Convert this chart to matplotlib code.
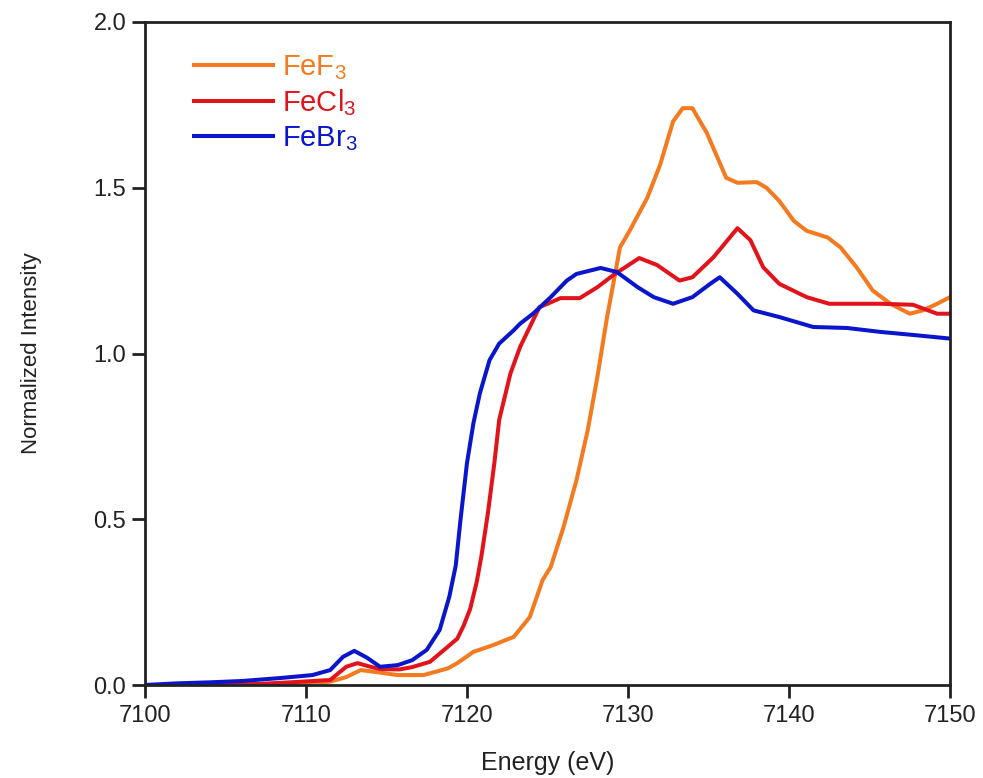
import matplotlib
matplotlib.use("Agg")
import matplotlib.pyplot as plt

plt.rcParams['font.family'] = ['Liberation Sans', 'DejaVu Sans']
plt.rcParams['mathtext.fontset'] = 'custom'
plt.rcParams['mathtext.rm'] = 'Liberation Sans'
plt.rcParams['mathtext.it'] = 'Liberation Sans'

# FeBr3
e_br = [7100, 7102, 7104, 7106, 7108.4, 7110.4, 7111.5, 7112.3, 7113.0, 7113.8, 7114.6, 7115.7,
        7116.6, 7117.5, 7118.3, 7118.9, 7119.3, 7119.6, 7120.0, 7120.4, 7120.8, 7121.4, 7122.0,
        7122.9, 7123.3, 7124.1, 7125.2, 7126.2, 7126.8, 7128.3, 7129.3, 7130.6, 7131.6, 7132.8,
        7134.0, 7135.1, 7135.7, 7136.8, 7137.8, 7139.4, 7141.5, 7143.6, 7145.7, 7147.7, 7150]
i_br = [0.0, 0.005, 0.008, 0.012, 0.021, 0.03, 0.045, 0.085, 0.103, 0.082, 0.055, 0.06,
        0.075, 0.106, 0.166, 0.266, 0.36, 0.50, 0.67, 0.79, 0.88, 0.98, 1.03,
        1.07, 1.09, 1.12, 1.17, 1.22, 1.24, 1.258, 1.246, 1.20, 1.17, 1.15,
        1.17, 1.21, 1.23, 1.18, 1.13, 1.11, 1.08, 1.077, 1.065, 1.056, 1.045]

# FeCl3
e_cl = [7100, 7104, 7107, 7109, 7111.5, 7112.5, 7113.2, 7114.0, 7114.6, 7115.8, 7116.6, 7117.7,
        7118.8, 7119.4, 7119.8, 7120.2, 7120.6, 7120.9, 7121.3, 7121.7, 7122.0, 7122.7, 7123.3,
        7124.1, 7124.5, 7125.0, 7125.8, 7127.0, 7128.1, 7129.1, 7130.7, 7131.8, 7133.2, 7134.0,
        7135.3, 7136.8, 7137.6, 7138.4, 7139.4, 7141.1, 7142.5, 7145.7, 7147.7, 7149.2, 7150]
i_cl = [0.0, 0.0, 0.003, 0.008, 0.015, 0.055, 0.066, 0.055, 0.048, 0.047, 0.054, 0.07,
        0.115, 0.14, 0.18, 0.23, 0.31, 0.39, 0.519, 0.67, 0.80, 0.94, 1.02,
        1.10, 1.14, 1.15, 1.167, 1.167, 1.20, 1.237, 1.288, 1.267, 1.22, 1.23,
        1.29, 1.378, 1.342, 1.26, 1.21, 1.17, 1.15, 1.15, 1.147, 1.12, 1.12]

# FeF3
e_f = [7100, 7104, 7108, 7110, 7111.5, 7112.5, 7113.4, 7114.2, 7115.7, 7117.3, 7118.8, 7119.4,
       7120.4, 7121.6, 7122.9, 7123.9, 7124.7, 7125.2, 7126.0, 7126.8, 7127.5, 7128.1, 7128.7,
       7129.2, 7129.5, 7130.1, 7131.2, 7132.0, 7132.8, 7133.4, 7134.0, 7134.9, 7135.7, 7136.1,
       7136.8, 7138.0, 7138.6, 7139.4, 7140.3, 7141.1, 7142.4, 7143.2, 7144.2, 7145.2, 7146.3,
       7147.5, 7148.3, 7149.2, 7150]
i_f = [0.0, 0.0, 0.003, 0.005, 0.01, 0.024, 0.045, 0.04, 0.03, 0.03, 0.05, 0.066,
       0.10, 0.12, 0.145, 0.205, 0.317, 0.356, 0.477, 0.618, 0.769, 0.93, 1.11,
       1.24, 1.32, 1.37, 1.47, 1.57, 1.70, 1.74, 1.74, 1.665, 1.575, 1.53,
       1.515, 1.517, 1.50, 1.46, 1.40, 1.37, 1.35, 1.32, 1.26, 1.19, 1.15,
       1.12, 1.13, 1.15, 1.17]

labels = ['FeF$_3$', 'FeCl$_3$', 'FeBr$_3$']
colors = ['#F47A20', '#E2141B', '#0A16CC']
x_ticks = [7100, 7110, 7120, 7130, 7140, 7150]
y_ticks = [0.0, 0.5, 1.0, 1.5, 2.0]

fig = plt.figure(figsize=(9.83, 7.78), dpi=100)
ax = fig.add_axes([145/983, 93/778, 805/983, 663/778])

for e, i, lab, c in zip([e_f, e_cl, e_br], [i_f, i_cl, i_br], labels, colors):
    ax.plot(e, i, color=c, lw=2.9, label=lab, solid_joinstyle='round')

ax.set_xlim(7100, 7150)
ax.set_ylim(0, 2.0)
ax.set_xticks(x_ticks)
ax.set_yticks(y_ticks)
ax.set_yticklabels([f"{v:.1f}" for v in y_ticks])
ax.tick_params(direction='out', length=9.5, width=2, labelsize=17, colors='#222222')
ax.tick_params(axis='x', pad=5)
ax.tick_params(axis='y', pad=4)
for s in ax.spines.values():
    s.set_linewidth(2)
    s.set_color('#222222')

ax.set_xlabel('Energy (eV)', fontsize=18, labelpad=17, color='#222222')
ax.set_ylabel('Normalized Intensity', fontsize=16, labelpad=37, color='#222222')

leg = ax.legend(loc='upper left', bbox_to_anchor=(0.0285, 0.993), frameon=False,
                handlelength=2.7, handletextpad=0.3, labelspacing=0.2,
                prop={'family': 'Liberation Sans', 'size': 21}, labelcolor='linecolor')

fig.savefig('out.png', dpi=100)
